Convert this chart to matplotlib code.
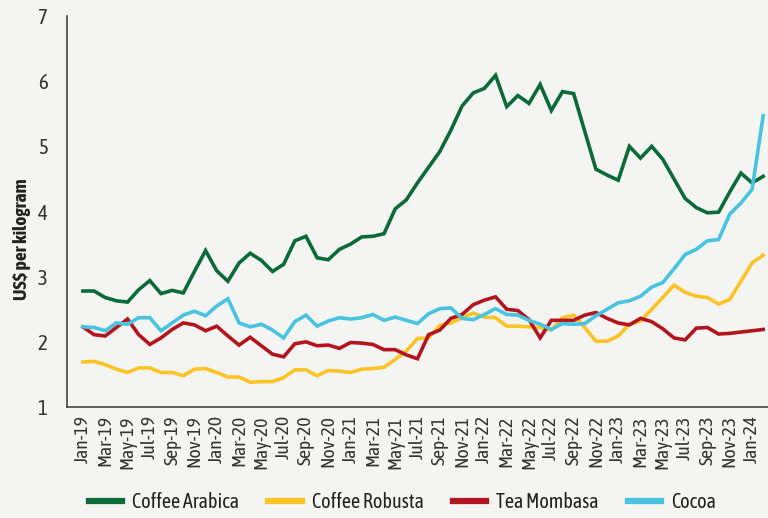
import numpy as np
import matplotlib
matplotlib.use("Agg")
import matplotlib.pyplot as plt
from matplotlib import font_manager

# monthly prices, Jan-19 .. Feb-24 (US$ per kg)
months = ["Jan", "Feb", "Mar", "Apr", "May", "Jun",
          "Jul", "Aug", "Sep", "Oct", "Nov", "Dec"]
labels = [f"{m}-{y}" for y in range(19, 25) for m in months][:62]

arabica = [2.78, 2.78, 2.68, 2.63, 2.61, 2.80, 2.94, 2.74, 2.79, 2.75, 3.08, 3.40,
           3.09, 2.93, 3.21, 3.36, 3.25, 3.08, 3.19, 3.55, 3.62, 3.29, 3.26, 3.42,
           3.50, 3.61, 3.62, 3.66, 4.04, 4.18, 4.44, 4.68, 4.92, 5.25, 5.62, 5.82,
           5.89, 6.09, 5.61, 5.78, 5.66, 5.95, 5.55, 5.84, 5.81, 5.23, 4.65, 4.56,
           4.48, 5.00, 4.82, 5.00, 4.80, 4.50, 4.20, 4.06, 3.98, 3.99, 4.30, 4.59,
           4.44, 4.54]
robusta = [1.69, 1.70, 1.65, 1.58, 1.53, 1.60, 1.60, 1.53, 1.53, 1.48, 1.58, 1.59,
           1.53, 1.46, 1.46, 1.38, 1.39, 1.39, 1.45, 1.57, 1.57, 1.48, 1.56, 1.55,
           1.53, 1.58, 1.59, 1.61, 1.73, 1.86, 2.05, 2.06, 2.25, 2.29, 2.37, 2.44,
           2.38, 2.37, 2.24, 2.24, 2.23, 2.22, 2.18, 2.37, 2.41, 2.22, 2.01, 2.01,
           2.09, 2.27, 2.32, 2.50, 2.68, 2.87, 2.76, 2.70, 2.68, 2.58, 2.65, 2.93,
           3.21, 3.33]
tea = [2.23, 2.11, 2.09, 2.22, 2.35, 2.11, 1.96, 2.06, 2.19, 2.29, 2.26, 2.17,
       2.24, 2.09, 1.95, 2.07, 1.94, 1.81, 1.77, 1.97, 2.00, 1.94, 1.95, 1.90,
       1.99, 1.98, 1.96, 1.88, 1.88, 1.80, 1.74, 2.11, 2.18, 2.36, 2.42, 2.57,
       2.64, 2.69, 2.50, 2.48, 2.34, 2.06, 2.33, 2.33, 2.33, 2.41, 2.45, 2.36,
       2.29, 2.26, 2.36, 2.31, 2.20, 2.06, 2.03, 2.21, 2.22, 2.12, 2.13, 2.15,
       2.17, 2.19]
cocoa = [2.23, 2.22, 2.17, 2.29, 2.27, 2.37, 2.37, 2.17, 2.29, 2.41, 2.47, 2.40,
         2.55, 2.66, 2.29, 2.23, 2.27, 2.18, 2.06, 2.31, 2.41, 2.24, 2.32, 2.37,
         2.35, 2.37, 2.42, 2.33, 2.38, 2.33, 2.28, 2.43, 2.51, 2.52, 2.36, 2.34,
         2.42, 2.51, 2.42, 2.41, 2.33, 2.27, 2.19, 2.28, 2.27, 2.28, 2.40, 2.50,
         2.60, 2.63, 2.70, 2.84, 2.91, 3.12, 3.34, 3.42, 3.55, 3.57, 3.96, 4.13,
         4.34, 5.47]

names = ["Coffee Arabica", "Coffee Robusta", "Tea Mombasa", "Cocoa"]
colors = ["#0b6b38", "#fdc426", "#b3151e", "#48c4e0"]

# pick a narrow face, preferring one that also has a bold weight
fonts = font_manager.fontManager.ttflist
narrow = {}
for f in fonts:
    if "Narrow" in f.name or "Condensed" in f.name:
        w = f.weight if isinstance(f.weight, int) else 400
        narrow.setdefault(f.name, set()).add(w)
fam = "DejaVu Sans"
if narrow:
    fam = sorted(narrow, key=lambda n: (max(narrow[n]) < 600, 400 not in narrow[n]))[0]
plt.rcParams["font.family"] = [fam, "DejaVu Sans"]

bg = "#f4f4f2"
fig = plt.figure(figsize=(7.68, 5.18), dpi=100, facecolor=bg)
ax = fig.add_axes([0.0872, 0.2143, 0.9128, 0.7547], facecolor=bg)

x = np.arange(len(labels))
for s, n, c in zip([arabica, robusta, tea, cocoa], names, colors):
    ax.plot(x, s, color=c, lw=2.6, label=n, solid_joinstyle="miter")

ax.set_xlim(-1.43, 61.43)
ax.set_ylim(1, 7)
ax.set_xticks(x[::2])
ax.set_xticklabels(labels[::2], rotation=90, fontsize=14, color="#333333")
ax.set_yticks(range(1, 8))
ax.tick_params(axis="y", labelsize=15, colors="#333333", length=0, pad=14)
ax.tick_params(axis="x", length=0, pad=6)

for sp in ["top", "right"]:
    ax.spines[sp].set_visible(False)
for sp in ["left", "bottom"]:
    ax.spines[sp].set_color("#444444")
    ax.spines[sp].set_linewidth(1.2)

ax.set_ylabel("US$ per kilogram", fontsize=14, fontweight="bold", color="#222222")
ax.yaxis.set_label_coords(-0.052, 0.43)

leg = fig.legend(loc="center", bbox_to_anchor=(0.524, 0.03), ncol=4,
                 frameon=False, fontsize=14.5, handlelength=1.65,
                 columnspacing=1.45, handletextpad=0.5)
for h in leg.legend_handles:
    h.set_linewidth(4.5)
for t in leg.get_texts():
    t.set_color("#222222")

fig.savefig("out.png", dpi=100, facecolor=bg)
